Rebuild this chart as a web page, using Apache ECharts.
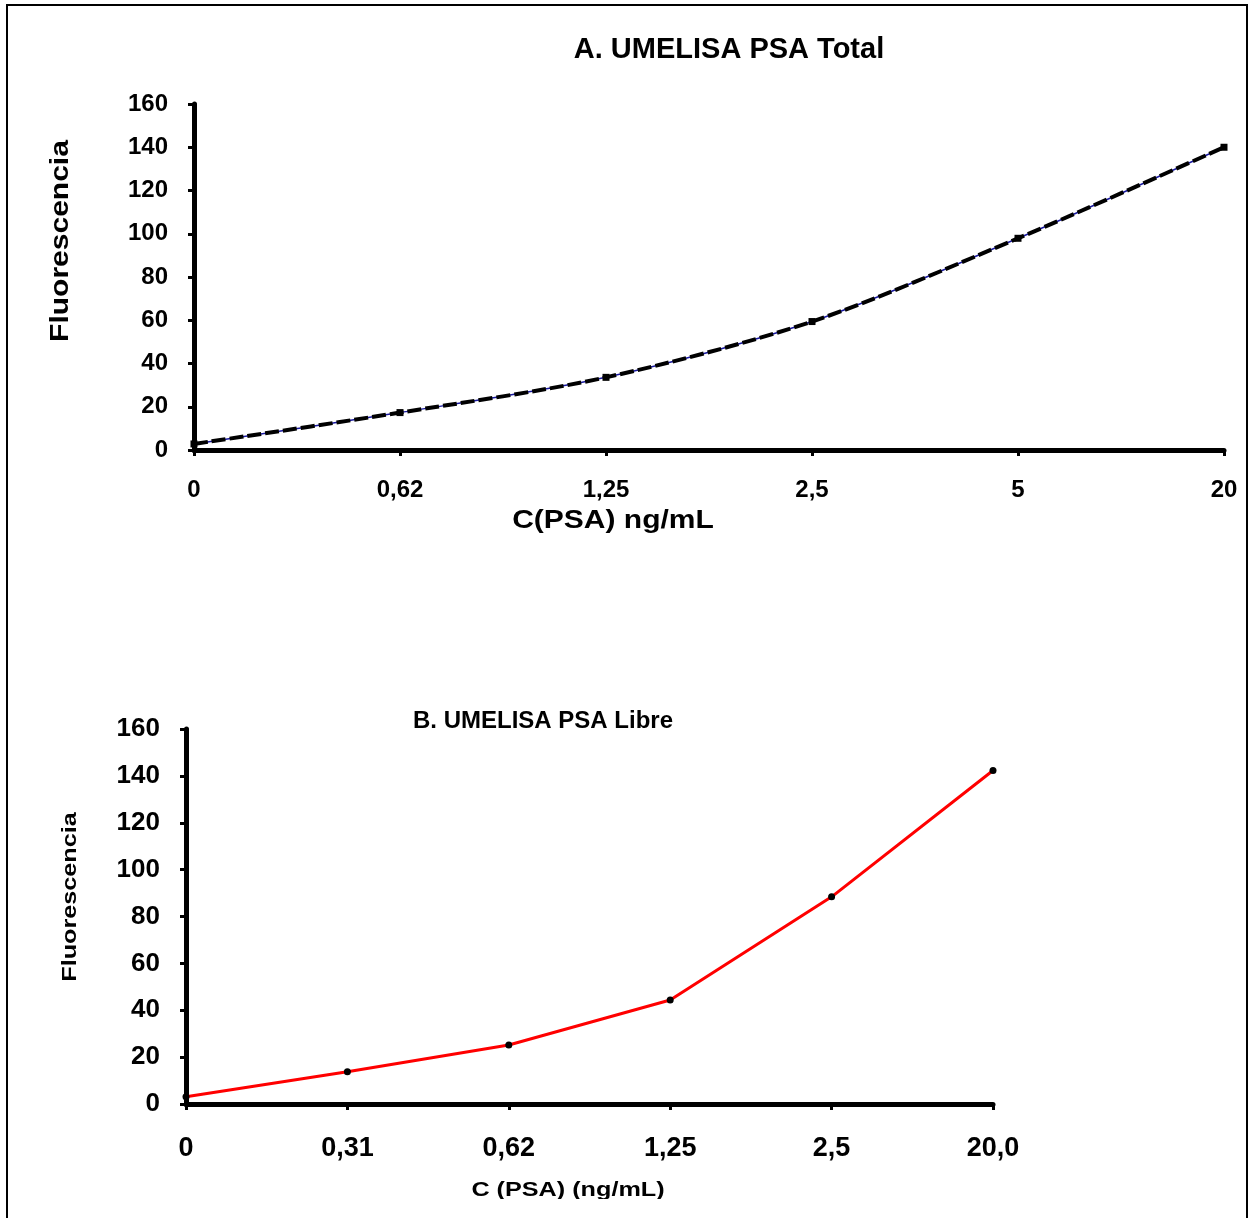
<!DOCTYPE html>
<html><head><meta charset="utf-8">
<script src="https://cdn.jsdelivr.net/npm/echarts@6/dist/echarts.min.js"></script>
<style>
html,body{margin:0;padding:0;background:#fff;overflow:hidden;}
#frame{position:absolute;left:6px;top:4px;width:1242px;height:1240px;border:2px solid #000;box-sizing:border-box;}
#c{position:absolute;left:0;top:0;width:1252px;height:1199px;}
</style></head>
<body>
<div id="frame"></div>
<div id="c"></div>
<script>
const catsA = ['0','0,62','1,25','2,5','5','20'];
const valsA = [2.8, 17.3, 33.6, 59.4, 97.9, 140];
const catsB = ['0','0,31','0,62','1,25','2,5','20,0'];
const valsB = [3.1, 13.8, 25.2, 44.4, 88.4, 142.3];

const FONT = '"Liberation Sans", Arial, sans-serif';
const chart = echarts.init(document.getElementById('c'), null, {renderer:'canvas'});

function xAxis(gi, cats, fs, margin){
  return {type:'category', gridIndex:gi, data:cats, boundaryGap:false,
    axisLine:{lineStyle:{color:'#000', width:5}},
    axisTick:{show:true, length:6, lineStyle:{color:'#000', width:3}, alignWithLabel:true},
    axisLabel:{color:'#000', fontFamily:FONT, fontWeight:'bold', fontSize:fs, margin:margin},
    splitLine:{show:false}};
}
function yAxis(gi, fs, margin){
  return {type:'value', gridIndex:gi, min:0, max:160, interval:20,
    axisLine:{show:true, lineStyle:{color:'#000', width:5}},
    axisTick:{show:true, length:6, lineStyle:{color:'#000', width:3}},
    axisLabel:{color:'#000', fontFamily:FONT, fontWeight:'bold', fontSize:fs, margin:margin},
    splitLine:{show:false}};
}
function label(text, x, y, size, rot){
  return {type:'text', x:x, y:y, rotation:rot||0, scaleX:1.2, scaleY:1,
    style:{text:text, fill:'#000', font:'bold '+size+'px '+FONT, align:'center', verticalAlign:'middle'}};
}

chart.setOption({
  animation:false,
  backgroundColor:'transparent',
  title:[
    {text:'A. UMELISA PSA Total', left:724, top:30, textAlign:'center',
      textStyle:{fontFamily:FONT, fontWeight:'bold', fontSize:29, color:'#000'}},
    {text:'B. UMELISA PSA Libre', left:538, top:704, textAlign:'center',
      textStyle:{fontFamily:FONT, fontWeight:'bold', fontSize:24, color:'#000'}}
  ],
  grid:[
    {left:194, top:104, width:1030, height:346},
    {left:186, top:729, width:807, height:375}
  ],
  xAxis:[xAxis(0, catsA, 24, 28), xAxis(1, catsB, 27, 31)],
  yAxis:[yAxis(0, 24, 26), yAxis(1, 26, 26)],
  graphic:[
    label('C(PSA) ng/mL', 613, 521, 25),
    label('Fluorescencia', 61, 241, 25, Math.PI/2),
    label('Fluorescencia', 70, 897, 21, Math.PI/2),
    label('C (PSA) (ng/mL)', 568, 1190, 21)
  ],
  series:[
    {type:'line', xAxisIndex:0, yAxisIndex:0, data:valsA, smooth:0.3, symbol:'none',
      lineStyle:{color:'#1a1aa0', width:1.5}, z:2},
    {type:'line', xAxisIndex:0, yAxisIndex:0, data:valsA, smooth:0.3, symbol:'rect', symbolSize:7,
      itemStyle:{color:'#000'},
      lineStyle:{color:'#000', width:4, type:[14,4]}, z:3},
    {type:'line', xAxisIndex:1, yAxisIndex:1, data:valsB, symbol:'circle', symbolSize:7,
      itemStyle:{color:'#000'},
      lineStyle:{color:'#ff0000', width:3}, z:3}
  ]
});
</script>
</body></html>
